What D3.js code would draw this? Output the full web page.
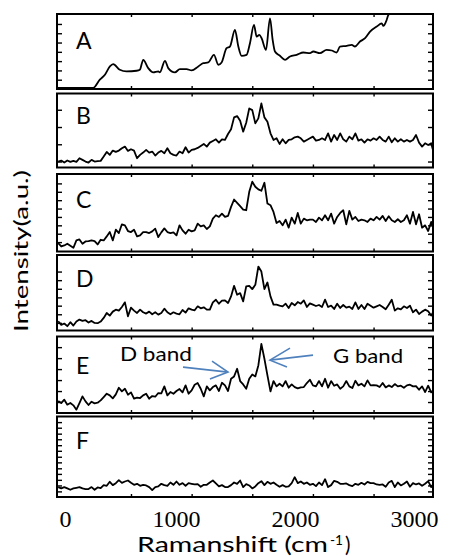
<!DOCTYPE html>
<html><head><meta charset="utf-8">
<script src="https://cdn.jsdelivr.net/npm/d3@7"></script>
<style>body{margin:0;background:#fff}svg{display:block}</style>
</head><body><svg id="c" width="449" height="556"></svg>
<script>
// ---------- DATA ----------
const panelLabels = ["A","B","C","D","E","F"];
const xTickLabels = [0,1000,2000,3000];
const xFrameTicks = [500,1000,1500,2000,2500];

const shiftA = [-108,188,243,285,326,353,408,463,546,573,601,642,683,725,738,780,807,862,903,958,1000,1055,1096,1137,1184,1220,1247,1288,1316,1357,1385,1412,1453,1481,1514,1536,1558,1577,1613,1646,1668,1687,1728,1770,1811,1866,1921,1976,2003,2058,2113,2155,2196,2223,2279,2320,2347,2388,2430,2471,2526,2567,2581,2608,2622,2718];
const intensityA = [3,3,28,43,68,75,58,53,55,58,88,63,50,53,50,85,63,50,60,60,56,68,78,80,103,73,80,123,128,178,128,100,103,138,193,158,163,153,118,213,148,113,100,88,98,103,110,108,113,108,118,116,110,128,130,133,128,143,153,173,188,198,190,208,223,248];

const shiftGrid = [-100,-75,-50,-25,0,25,50,75,100,125,150,175,200,225,250,275,300,325,350,375,400,425,450,475,500,525,550,575,600,625,650,675,700,725,750,775,800,825,850,875,900,925,950,975,1000,1025,1050,1075,1100,1125,1150,1175,1200,1225,1250,1275,1300,1325,1350,1375,1400,1425,1450,1475,1500,1525,1550,1575,1600,1625,1650,1675,1700,1725,1750,1775,1800,1825,1850,1875,1900,1925,1950,1975,2000,2025,2050,2075,2100,2125,2150,2175,2200,2225,2250,2275,2300,2325,2350,2375,2400,2425,2450,2475,2500,2525,2550,2575,2600,2625,2650,2675,2700,2725,2750,2775,2800,2825,2850,2875,2900,2925,2950,2975,3000];

const intensityB = [18,21,15,21,17,20,17,28,23,18,15,23,18,19,20,33,47,38,51,47,51,58,63,50,55,51,28,38,45,53,45,48,36,45,50,43,58,43,38,36,48,43,61,45,53,55,59,65,71,63,75,80,85,75,85,83,101,115,151,155,141,108,135,178,173,133,148,193,151,138,103,83,88,71,85,73,83,85,91,93,88,78,83,88,93,81,83,88,83,103,78,98,83,103,85,78,93,85,103,81,85,75,85,81,88,83,93,83,78,93,76,88,78,85,78,83,78,83,98,75,63,73,68,73,38];

const intensityC = [25,15,18,23,17,11,33,36,23,30,31,33,31,21,35,33,45,58,33,65,55,81,78,61,58,65,45,48,58,58,55,60,68,43,57,69,58,55,57,48,78,63,53,65,60,63,83,75,78,67,75,98,108,103,113,103,106,133,155,145,135,125,123,178,208,193,185,181,205,143,138,118,85,91,78,95,71,101,83,115,83,98,93,95,95,88,101,93,108,93,113,83,103,115,123,81,121,95,103,91,95,93,88,98,93,103,95,106,91,105,93,88,96,88,93,108,83,118,81,111,71,78,61,88,63];

const intensityD = [28,17,21,13,25,15,27,33,29,31,24,29,23,22,27,38,53,45,57,63,60,71,85,43,69,60,53,63,55,51,57,49,55,48,53,66,55,49,55,51,49,62,54,67,63,61,73,67,70,63,63,85,93,81,90,91,83,103,135,108,113,88,133,135,125,138,193,178,125,145,103,78,78,75,73,81,68,83,76,86,81,91,71,82,78,74,77,71,93,71,75,65,81,68,77,69,72,65,85,65,77,65,81,75,69,73,77,71,64,78,93,60,67,64,73,68,75,55,63,50,57,63,58,45,61];

const intensityE = [36,30,40,25,30,23,10,30,50,35,24,34,29,31,38,48,58,53,44,56,76,65,73,55,62,43,46,45,53,58,43,51,49,60,59,80,53,63,58,66,72,62,83,58,68,85,90,73,50,80,68,78,83,66,91,83,66,103,110,133,96,86,73,103,116,110,143,208,163,113,65,96,80,88,80,96,76,86,78,74,77,78,90,100,83,80,96,80,103,76,96,82,86,73,80,96,80,75,97,83,88,80,98,83,84,83,78,90,77,83,78,87,80,82,76,83,85,80,81,70,80,63,82,62,70];

const intensityF = [30,26,30,26,22,26,28,30,26,24,24,30,22,29,27,36,34,46,36,42,51,43,47,50,43,37,40,34,37,35,30,21,30,32,40,36,34,44,37,47,37,42,34,42,40,38,39,31,37,37,44,50,41,32,36,30,30,36,44,40,50,30,39,35,26,32,42,48,36,46,40,44,37,31,36,31,32,42,60,42,47,40,44,37,40,33,44,36,54,30,36,49,46,40,40,41,36,33,40,37,43,38,46,42,42,38,37,38,31,44,49,30,44,35,40,47,31,42,38,41,34,40,48,30,44];

const yTicksA = [28,56,84,112,140,168,196];
const yTicksB = [18,70,122,174];
const yTicksC = [28,53,78,103,128,153,178,203];
const yTicksD = [23,49,75,100,126,152,178];
const yTicksE = [33,66,99,132,165,198];
const yTicksF = [17,35,52,70,87,105,122,140,157,175,192,210,227];

const bandLabels = ["D band","G band"];

// ---------- LAYOUT ----------
const svg = d3.select("#c");
const x = d3.scaleLinear().domain([-110, 2990]).range([57, 433]);
const xLab = d3.scaleLinear().domain([0, 3000]).range([57, 414]);
const sans = "Lato, 'Open Sans', sans-serif";

const panels = [
  {name:panelLabels[0], top:14,    bottom:89,    ymax:226, xs:shiftA,    ys:intensityA, ticks:yTicksA, lab:35, curve:d3.curveMonotoneX},
  {name:panelLabels[1], top:93.5,  bottom:167.5, ymax:223, xs:shiftGrid, ys:intensityB, ticks:yTicksB, lab:30, curve:d3.curveLinear},
  {name:panelLabels[2], top:174,   bottom:251.5, ymax:231, xs:shiftGrid, ys:intensityC, ticks:yTicksC, lab:34, curve:d3.curveLinear},
  {name:panelLabels[3], top:255,   bottom:330.5, ymax:228, xs:shiftGrid, ys:intensityD, ticks:yTicksD, lab:32, curve:d3.curveLinear},
  {name:panelLabels[4], top:336.5, bottom:413,   ymax:230, xs:shiftGrid, ys:intensityE, ticks:yTicksE, lab:37, curve:d3.curveLinear},
  {name:panelLabels[5], top:416.5, bottom:497,   ymax:244, xs:shiftGrid, ys:intensityF, ticks:yTicksF, lab:32, curve:d3.curveLinear}
];
const [x0, x1] = x.range();
const defs = svg.append("defs");
const yScales = [];

panels.forEach((p, i) => {
  const y = d3.scaleLinear().domain([0, p.ymax]).range([p.bottom, p.top]);
  yScales.push(y);
  const g = svg.append("g");
  defs.append("clipPath").attr("id", "clip" + i)
    .append("rect").attr("x", x0).attr("y", p.top).attr("width", x1 - x0).attr("height", p.bottom - p.top);

  const pts = p.xs.map((v, k) => [v, p.ys[k]]);
  g.append("path").datum(pts)
    .attr("clip-path", `url(#clip${i})`)
    .attr("fill", "none").attr("stroke", "#000").attr("stroke-width", 1.8)
    .attr("stroke-linejoin", "round")
    .attr("d", d3.line().x(d => x(d[0])).y(d => y(d[1])).curve(p.curve));

  const styleAxis = sel => { sel.select(".domain").remove(); sel.selectAll("line").attr("stroke", "#000").attr("stroke-width", 1.4); };
  g.append("g").attr("transform", `translate(${x0},0)`).call(d3.axisLeft(y).tickValues(p.ticks).tickSize(-5).tickFormat("")).call(styleAxis);
  g.append("g").attr("transform", `translate(${x1},0)`).call(d3.axisRight(y).tickValues(p.ticks).tickSize(-5).tickFormat("")).call(styleAxis);
  g.append("g").attr("transform", `translate(0,${p.bottom})`).call(d3.axisBottom(x).tickValues(xFrameTicks).tickSize(-3).tickFormat("")).call(styleAxis);
  g.append("g").attr("transform", `translate(0,${p.top})`).call(d3.axisTop(x).tickValues(xFrameTicks).tickSize(-3).tickFormat("")).call(styleAxis);

  g.append("rect").attr("x", x0).attr("y", p.top).attr("width", x1 - x0).attr("height", p.bottom - p.top)
    .attr("fill", "none").attr("stroke", "#000").attr("stroke-width", 2);

  g.append("text").attr("x", 76).attr("y", p.top + p.lab).text(p.name)
    .attr("font-family", sans).attr("font-size", 23).attr("fill", "#000");
});

// annotations on panel E
const yE = yScales[4];
const blue = "#4f81bd";
const arrow = (tail, tip, w1, w2) => {
  const ln = d3.line().x(d => x(d[0])).y(d => yE(d[1]));
  svg.append("path").attr("d", ln([tail, tip])).attr("stroke", blue).attr("stroke-width", 1.6).attr("fill", "none");
  svg.append("path").attr("d", ln([w1, tip, w2])).attr("stroke", blue).attr("stroke-width", 1.6).attr("fill", "none");
};
arrow([929,138],[1300,123],[1168,156],[1151,102]);
arrow([2001,174],[1646,159],[1811,195],[1786,138]);
svg.append("text").attr("x", x(409)).attr("y", yE(156)).text(bandLabels[0])
  .attr("font-family", sans).attr("font-size", 20).attr("textLength", 72).attr("lengthAdjust", "spacingAndGlyphs");
svg.append("text").attr("x", x(2166)).attr("y", yE(150)).text(bandLabels[1])
  .attr("font-family", sans).attr("font-size", 20).attr("textLength", 70).attr("lengthAdjust", "spacingAndGlyphs");

// bottom tick labels
const ax = svg.append("g").attr("transform", "translate(0,509.7)")
  .call(d3.axisBottom(xLab).tickValues(xTickLabels).tickSize(0).tickPadding(0).tickFormat(d3.format("d")));
ax.select(".domain").remove();
ax.selectAll("text").attr("font-family", "'Liberation Serif','Times New Roman',serif").attr("font-size", 24).attr("fill", "#000")
  .attr("dx", d => d === 0 ? 8 : 0);

// axis titles
svg.append("text").attr("transform", "translate(27.5,251) rotate(-90)").attr("text-anchor", "middle")
  .attr("font-family", sans).attr("font-size", 19).attr("textLength", 162).attr("lengthAdjust", "spacingAndGlyphs")
  .text("Intensity(a.u.)");
svg.append("text").attr("x", 137).attr("y", 551.5).attr("font-family", sans).attr("font-size", 20.5)
  .attr("textLength", 191).attr("lengthAdjust", "spacingAndGlyphs").text("Ramanshift (cm");
svg.append("text").attr("x", 330).attr("y", 544.5).attr("font-family", sans).attr("font-size", 13)
  .attr("textLength", 13).attr("lengthAdjust", "spacingAndGlyphs").text("-1");
svg.append("text").attr("x", 345).attr("y", 551.5).attr("font-family", sans).attr("font-size", 20.5).text(")");
</script></body></html>
